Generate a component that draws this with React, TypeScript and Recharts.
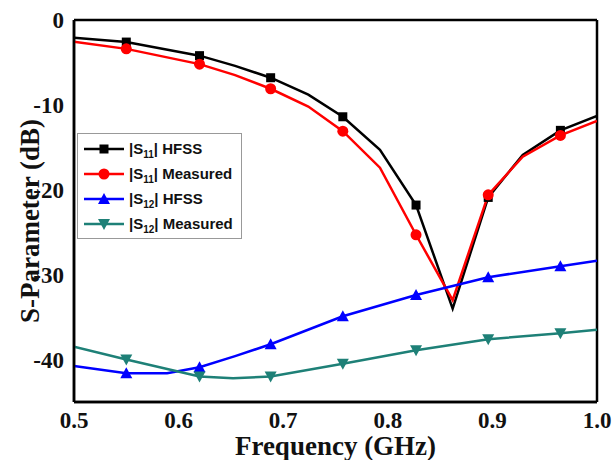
import React from "react";
import { CartesianGrid, Line, LineChart, XAxis, YAxis } from "recharts";

// frequency (GHz) / S-parameter (dB)
const s11HfssFreq = [0.5, 0.55, 0.62, 0.654, 0.688, 0.724, 0.757, 0.7925, 0.827, 0.862, 0.896, 0.929, 0.965, 1.0];
const s11HfssDb = [-2.1, -2.6, -4.2, -5.4, -6.8, -8.8, -11.4, -15.3, -21.8, -34.0, -20.9, -15.9, -13.0, -11.3];

const s11MeasFreq = [0.5, 0.55, 0.62, 0.654, 0.688, 0.724, 0.757, 0.7925, 0.827, 0.862, 0.896, 0.929, 0.965, 1.0];
const s11MeasDb = [-2.55, -3.4, -5.2, -6.5, -8.1, -10.2, -13.1, -17.4, -25.3, -33.0, -20.6, -16.1, -13.6, -11.9];

const s12HfssFreq = [0.5, 0.55, 0.589, 0.62, 0.654, 0.688, 0.757, 0.827, 0.896, 0.965, 1.0];
const s12HfssDb = [-40.75, -41.6, -41.6, -40.9, -39.6, -38.2, -34.9, -32.4, -30.3, -29.0, -28.35];

const s12MeasFreq = [0.5, 0.55, 0.62, 0.652, 0.688, 0.757, 0.827, 0.896, 0.965, 1.0];
const s12MeasDb = [-38.5, -40.0, -42.0, -42.2, -42.0, -40.5, -38.9, -37.6, -36.9, -36.5];

// frequencies that carry a marker symbol
const markerFreq = [0.55, 0.62, 0.688, 0.757, 0.827, 0.896, 0.965];

const xTicks = [0.5, 0.6, 0.7, 0.8, 0.9, 1.0];
const yTicks = [0, -10, -20, -30, -40];

const toPoints = (f: number[], db: number[]) => f.map((x, i) => ({ f: x, db: db[i] }));

type Shape = "square" | "circle" | "up" | "down";

const series = [
  { name: "HFSS", sub: "11", color: "#000000", shape: "square" as Shape, data: toPoints(s11HfssFreq, s11HfssDb) },
  { name: "Measured", sub: "11", color: "#ff0000", shape: "circle" as Shape, data: toPoints(s11MeasFreq, s11MeasDb) },
  { name: "HFSS", sub: "12", color: "#0000ff", shape: "up" as Shape, data: toPoints(s12HfssFreq, s12HfssDb) },
  { name: "Measured", sub: "12", color: "#1e8077", shape: "down" as Shape, data: toPoints(s12MeasFreq, s12MeasDb) },
];

const serif = "'Liberation Serif', 'Times New Roman', serif";
const tickFont = { fontFamily: serif, fontWeight: "bold" as const, fontSize: 23, fill: "#111" };

function Marker({ shape, color, cx, cy }: { shape: Shape; color: string; cx: number; cy: number }) {
  if (shape === "square") return <rect x={cx - 4.5} y={cy - 4.5} width={9} height={9} fill={color} />;
  if (shape === "circle") return <circle cx={cx} cy={cy} r={5.5} fill={color} />;
  if (shape === "up") return <polygon points={`${cx},${cy - 6} ${cx - 6},${cy + 5} ${cx + 6},${cy + 5}`} fill={color} />;
  return <polygon points={`${cx},${cy + 6} ${cx - 6},${cy - 5} ${cx + 6},${cy - 5}`} fill={color} />;
}

function makeDot(shape: Shape, color: string) {
  return (props: any) => {
    const { cx, cy, payload, index } = props;
    if (!markerFreq.some((m) => Math.abs(m - payload.f) < 1e-6)) return <g key={`n${index}`} />;
    return (
      <g key={`d${index}`}>
        <Marker shape={shape} color={color} cx={cx} cy={cy} />
      </g>
    );
  };
}

function XTick(props: any) {
  const { x, y, payload } = props;
  return (
    <text x={x} y={y} dy="0.75em" textAnchor="middle" style={tickFont}>
      {Number(payload.value).toFixed(1)}
    </text>
  );
}

function YTick(props: any) {
  const { x, y, payload } = props;
  return (
    <text x={x} y={y} dy="0.35em" textAnchor="end" style={tickFont}>
      {payload.value}
    </text>
  );
}

function YLabel(props: any) {
  const vb = props.viewBox || { x: 14, y: 20, width: 60, height: 382 };
  const cx = vb.x + 16;
  const cy = vb.y + vb.height / 2 + 10;
  return (
    <text
      x={cx}
      y={cy}
      dy="0.35em"
      textAnchor="middle"
      transform={`rotate(-90 ${cx} ${cy})`}
      style={{ ...tickFont, fontSize: 27 }}
    >
      S-Parameter (dB)
    </text>
  );
}

function LegendBox() {
  return (
    <div
      style={{
        position: "absolute",
        left: 77,
        top: 133,
        border: "1.5px solid #999",
        background: "#fff",
        padding: "2px 8px 2px 6px",
        fontFamily: "'Liberation Sans', Arial, sans-serif",
        fontWeight: "bold",
        fontSize: 15,
        color: "#111",
        lineHeight: "16px",
      }}
    >
      {series.map((s, i) => (
        <div key={i} style={{ display: "flex", alignItems: "center", height: 25 }}>
          <svg width={40} height={16} style={{ marginRight: 5 }}>
            <line x1={0} y1={8} x2={40} y2={8} stroke={s.color} strokeWidth={2.5} />
            <Marker shape={s.shape} color={s.color} cx={20} cy={8} />
          </svg>
          <span>
            |S<sub style={{ fontSize: 10, lineHeight: 0 }}>{s.sub}</sub>| {s.name}
          </span>
        </div>
      ))}
    </div>
  );
}

export default function App() {
  return (
    <div style={{ position: "absolute", left: 0, top: 0, width: 614, height: 460, background: "#fff" }}>
      <LineChart width={614} height={460} margin={{ top: 20, right: 17, left: 14, bottom: 2 }}>
        <CartesianGrid
          stroke="#000"
          strokeWidth={2.5}
          horizontalCoordinatesGenerator={({ offset }: any) => [offset.top, offset.top + offset.height]}
          verticalCoordinatesGenerator={({ offset }: any) => [offset.left, offset.left + offset.width]}
        />
        <XAxis
          dataKey="f"
          type="number"
          domain={[0.5, 1.0]}
          ticks={xTicks}
          tick={<XTick />}
          tickLine={false}
          axisLine={{ stroke: "#000", strokeWidth: 2.5 }}
          height={56}
          tickMargin={3}
          allowDataOverflow
          label={{
            value: "Frequency (GHz)",
            position: "insideBottom",
            offset: 3,
            style: { ...tickFont, fontSize: 27 },
          }}
        />
        <YAxis
          type="number"
          domain={[-45, 0]}
          ticks={yTicks}
          tick={<YTick />}
          tickLine={false}
          axisLine={{ stroke: "#000", strokeWidth: 2.5 }}
          width={60}
          tickMargin={4}
          allowDataOverflow
          label={<YLabel />}
        />
        {series.map((s, i) => (
          <Line
            key={i}
            data={s.data}
            dataKey="db"
            name={`|S${s.sub}| ${s.name}`}
            type="linear"
            stroke={s.color}
            strokeWidth={2.5}
            dot={makeDot(s.shape, s.color)}
            activeDot={false}
            isAnimationActive={false}
          />
        ))}
      </LineChart>
      <LegendBox />
    </div>
  );
}
